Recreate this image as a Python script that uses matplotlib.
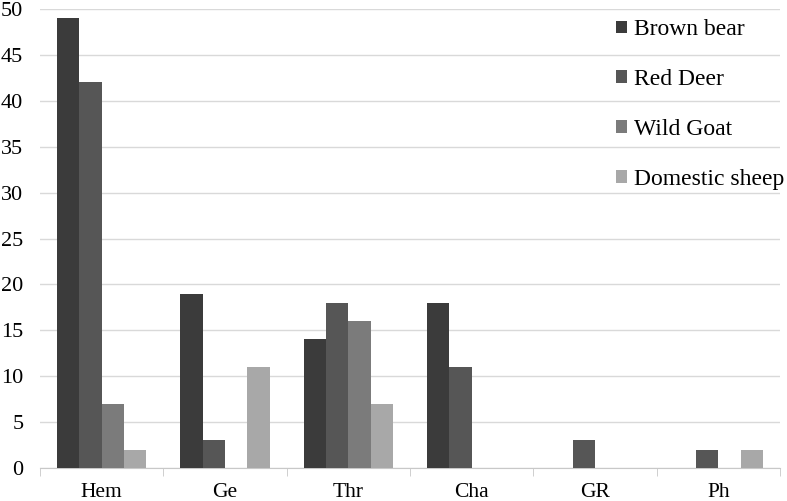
import numpy as np
import matplotlib.pyplot as plt

plt.rcParams['font.family'] = ['Liberation Serif', 'DejaVu Serif']

categories = ['Hem', 'Ge', 'Thr', 'Cha', 'GR', 'Ph']
brown_bear = [49, 19, 14, 18, 0, 0]
red_deer = [42, 3, 18, 11, 3, 2]
wild_goat = [7, 0, 16, 0, 0, 0]
domestic_sheep = [2, 11, 7, 0, 0, 2]

series = [('Brown bear', brown_bear, '#3b3b3b'),
          ('Red Deer', red_deer, '#565656'),
          ('Wild Goat', wild_goat, '#7b7b7b'),
          ('Domestic sheep', domestic_sheep, '#a8a8a8')]

fig = plt.figure(figsize=(7.87, 5.01), dpi=100)
ax = fig.add_axes([40/787, 33/501, 740/787, 459/501])

x = np.arange(len(categories))
w = 0.181
for i, (name, vals, col) in enumerate(series):
    ax.bar(x + (i - 1.5)*w, vals, w, color=col, label=name, zorder=3)

ax.set_xlim(-0.5, len(categories) - 0.5)
ax.set_ylim(0, 50)
ax.set_yticks(range(0, 51, 5))
ax.grid(axis='y', color='#d9d9d9', linewidth=1, zorder=0)

ax.set_xticks(x)
ax.set_xticklabels(categories, fontsize=15.5)
ax.tick_params(axis='x', length=0, pad=11)
ax.set_xticks(np.arange(-0.5, len(categories), 1), minor=True)
ax.tick_params(axis='x', which='minor', length=6, color='#c8c8c8')
ax.tick_params(axis='y', length=0, labelsize=16, pad=12)

for s in ['top', 'right', 'left']:
    ax.spines[s].set_visible(False)
ax.spines['bottom'].set_color('#c8c8c8')

ax.legend(loc='upper right', bbox_to_anchor=(1.018, 0.998), frameon=False,
          fontsize=17, handlelength=0.45, handleheight=0.45,
          handletextpad=0.3, labelspacing=1.22, borderaxespad=0.0)

fig.savefig('out.png', dpi=100)
